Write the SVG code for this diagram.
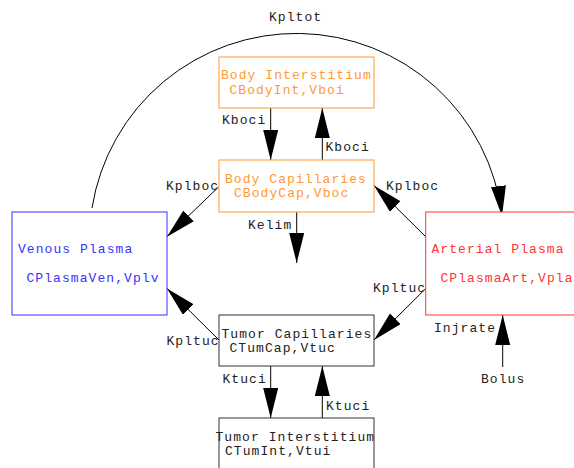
<svg xmlns="http://www.w3.org/2000/svg" width="574" height="468" viewBox="0 0 574 468">
<style>
text{font-family:"Liberation Mono","Courier New",monospace;font-size:13px;letter-spacing:1.07px;fill:#222}
.box{fill:#fff;stroke-width:1}
.o rect{stroke:#FF9933}.o text{fill:#FF9933}
.b rect{stroke:#3333FF}.b text{fill:#3333FF}
.r rect{stroke:#FF3333}.r text{fill:#FF3333}
.k rect{stroke:#333}.k text{fill:#222}
.c line,.c path{stroke:#000;stroke-width:1;fill:none;marker-end:url(#ah)}
</style>
<defs>
<marker id="ah" markerUnits="userSpaceOnUse" markerWidth="31" markerHeight="16" refX="30" refY="7.5" orient="auto">
<path d="M0,0 L30,7.5 L0,15 z" fill="#000"/>
</marker>
</defs>
<rect width="574" height="468" fill="#fff"/>
<g id="connectors" class="c">
<path d="M92,208 A207,207 0 0 1 502,216"/>
<line x1="270.7" y1="108" x2="270.7" y2="160"/>
<line x1="322.3" y1="160" x2="322.3" y2="108"/>
<line x1="296.7" y1="212" x2="296.7" y2="263"/>
<line x1="218.5" y1="187" x2="167" y2="236.7"/>
<line x1="425.7" y1="236.7" x2="374" y2="185.5"/>
<line x1="219" y1="340" x2="167" y2="288.5"/>
<line x1="425.7" y1="288.5" x2="374" y2="340"/>
<line x1="502.7" y1="367" x2="502.7" y2="315"/>
<line x1="270.7" y1="366" x2="270.7" y2="418"/>
<line x1="322.3" y1="418" x2="322.3" y2="366"/>
</g>
<g id="labels">
<text x="269" y="21">Kpltot</text>
<text x="222" y="124">Kboci</text>
<text x="325.5" y="151">Kboci</text>
<text x="166" y="189.5">Kplboc</text>
<text x="386" y="190">Kplboc</text>
<text x="248" y="229">Kelim</text>
<text x="373" y="292">Kpltuc</text>
<text x="166.5" y="345">Kpltuc</text>
<text x="434" y="332">Injrate</text>
<text x="481" y="383">Bolus</text>
<text x="222.5" y="383">Ktuci</text>
<text x="326" y="410">Ktuci</text>
</g>
<g id="body-interstitium" class="o">
<rect class="box" x="219" y="57" width="155" height="51"/>
<text x="221" y="79">Body Interstitium</text>
<text x="229.5" y="93.5">CBodyInt,Vboi</text>
</g>
<g id="body-capillaries" class="o">
<rect class="box" x="219" y="160" width="155" height="52"/>
<text x="225" y="183">Body Capillaries</text>
<text x="234" y="197">CBodyCap,Vboc</text>
</g>
<g id="venous-plasma" class="b">
<rect class="box" x="12" y="212" width="155" height="103"/>
<text x="18" y="253">Venous Plasma</text>
<text x="26.5" y="282">CPlasmaVen,Vplv</text>
</g>
<g id="arterial-plasma" class="r">
<rect class="box" x="425.7" y="212" width="155" height="103"/>
<text x="431.5" y="253">Arterial Plasma</text>
<text x="440.5" y="282">CPlasmaArt,Vpla</text>
</g>
<g id="tumor-capillaries" class="k">
<rect class="box" x="219" y="315" width="155" height="51"/>
<text x="221.5" y="337.5">Tumor Capillaries</text>
<text x="229.5" y="352">CTumCap,Vtuc</text>
</g>
<g id="tumor-interstitium" class="k">
<rect class="box" x="219" y="418" width="155" height="60"/>
<text x="215.5" y="441">Tumor Interstitium</text>
<text x="225" y="455">CTumInt,Vtui</text>
</g>
</svg>
